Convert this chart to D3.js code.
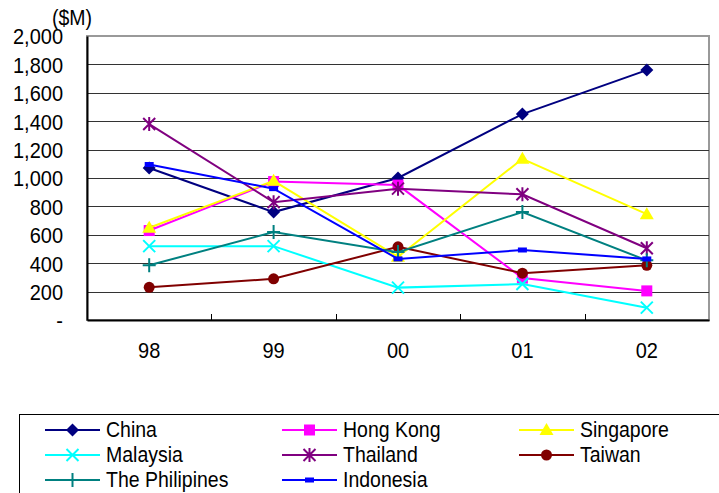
<!DOCTYPE html>
<html>
<head>
<meta charset="utf-8">
<script src="https://cdn.jsdelivr.net/npm/d3@7"></script>
<style>
  html, body { margin: 0; padding: 0; background: #fff; }
  svg { display: block; font-family: "Liberation Sans", Arial, sans-serif; }
</style>
</head>
<body>
<svg id="chart" width="719" height="493"></svg>
<script>
// Years on the category axis
const years = ["98", "99", "00", "01", "02"];

// Values in $M per economy
const china       = [1070, 760, 1000, 1450, 1760];
const hongKong    = [630, 975, 950, 295, 205];
const singapore   = [650, 980, 445, 1135, 745];
const malaysia    = [520, 520, 228, 253, 87];
const thailand    = [1380, 830, 925, 885, 505];
const taiwan      = [230, 290, 515, 330, 385];
const philippines = [385, 620, 478, 760, 420];
const indonesia   = [1095, 925, 430, 493, 430];

// Value-axis ticks
const yTicks = [0, 200, 400, 600, 800, 1000, 1200, 1400, 1600, 1800, 2000];

const series = [
  { name: "China",          values: china,       color: "#000080", marker: "diamond" },
  { name: "Hong Kong",      values: hongKong,    color: "#FF00FF", marker: "square" },
  { name: "Singapore",      values: singapore,   color: "#FFFF00", marker: "triangle" },
  { name: "Malaysia",       values: malaysia,    color: "#00FFFF", marker: "cross" },
  { name: "Thailand",       values: thailand,    color: "#800080", marker: "star" },
  { name: "Taiwan",         values: taiwan,      color: "#800000", marker: "circle" },
  { name: "The Philipines", values: philippines, color: "#008080", marker: "plus" },
  { name: "Indonesia",      values: indonesia,   color: "#0000FF", marker: "dash" }
];

const svg = d3.select("#chart");
const plot = { left: 87, right: 709, top: 36, bottom: 320 };
const stretch = "scale(1,1.1)"; // slightly tall glyphs

const x = d3.scaleBand().domain(years).range([plot.left, plot.right]).padding(0);
const y = d3.scaleLinear().domain([0, 2000]).range([plot.bottom, plot.top]);

// Plot frame (grey) and horizontal gridlines
svg.append("rect")
  .attr("x", plot.left).attr("y", plot.top)
  .attr("width", plot.right - plot.left).attr("height", plot.bottom - plot.top)
  .attr("fill", "#fff").attr("stroke", "#999").attr("stroke-width", 2);

svg.append("g")
  .selectAll("line")
  .data(yTicks.filter(t => t > 0 && t < 2000))
  .join("line")
  .attr("x1", plot.left).attr("x2", plot.right)
  .attr("y1", d => Math.round(y(d)) + 0.5).attr("y2", d => Math.round(y(d)) + 0.5)
  .attr("stroke", "#333").attr("stroke-width", 1);

// Value axis
const yAxis = svg.append("g")
  .attr("transform", `translate(${plot.left},0)`)
  .call(d3.axisLeft(y)
    .tickValues(yTicks)
    .tickSize(0)
    .tickPadding(24)
    .tickFormat(d => d === 0 ? "-" : d3.format(",")(d)));
yAxis.select(".domain").attr("stroke", "#000").attr("stroke-width", 2);
yAxis.selectAll("text")
  .attr("font-size", 20).attr("fill", "#000")
  .attr("font-family", "Liberation Sans, Arial, sans-serif")
  .attr("dy", "0.36em")
  .attr("transform", stretch);

// Category axis
const xAxis = svg.append("g")
  .attr("transform", `translate(0,${plot.bottom})`)
  .call(d3.axisBottom(x).tickSize(0).tickPadding(20.3));
xAxis.select(".domain").attr("stroke", "#000").attr("stroke-width", 2);
xAxis.selectAll("text")
  .attr("font-size", 20).attr("fill", "#000")
  .attr("font-family", "Liberation Sans, Arial, sans-serif")
  .attr("transform", stretch);

// Tick marks between categories, pointing into the plot
svg.append("g")
  .selectAll("line")
  .data(years.slice(1))
  .join("line")
  .attr("x1", d => Math.round(x(d)) + 0.5).attr("x2", d => Math.round(x(d)) + 0.5)
  .attr("y1", plot.bottom).attr("y2", plot.bottom - 6)
  .attr("stroke", "#000").attr("stroke-width", 1);

// Unit label
svg.append("text")
  .attr("transform", `translate(52,25) ${stretch}`)
  .attr("font-size", 19.5)
  .text("($M)");

// Marker drawing
function drawMarker(g, type, color) {
  switch (type) {
    case "diamond":
      g.append("path").attr("d", "M0,-6.5L6.5,0L0,6.5L-6.5,0Z").attr("fill", color);
      break;
    case "square":
      g.append("rect").attr("x", -5.5).attr("y", -5.5).attr("width", 11).attr("height", 11).attr("fill", color);
      break;
    case "triangle":
      g.append("path").attr("d", "M0,-7L7,5L-7,5Z").attr("fill", color);
      break;
    case "circle":
      g.append("circle").attr("r", 5.5).attr("fill", color);
      break;
    case "dash":
      g.append("rect").attr("x", -4.5).attr("y", -2.5).attr("width", 9).attr("height", 5).attr("fill", color);
      break;
    case "cross":
      g.append("path").attr("d", "M-6,-6L6,6M-6,6L6,-6").attr("stroke", color).attr("stroke-width", 2).attr("fill", "none");
      break;
    case "star":
      g.append("path").attr("d", "M-6,-6L6,6M-6,6L6,-6M0,-7L0,7").attr("stroke", color).attr("stroke-width", 2).attr("fill", "none");
      break;
    case "plus":
      g.append("path").attr("d", "M-6.5,0L6.5,0M0,-7L0,7").attr("stroke", color).attr("stroke-width", 2).attr("fill", "none");
      break;
  }
}

const line = d3.line()
  .x((d, i) => x(years[i]) + x.bandwidth() / 2)
  .y(d => y(d));

// Series lines with markers
series.forEach(s => {
  const g = svg.append("g");
  g.append("path")
    .attr("d", line(s.values))
    .attr("fill", "none")
    .attr("stroke", s.color)
    .attr("stroke-width", 2);
  s.values.forEach((v, i) => {
    const m = g.append("g")
      .attr("transform", `translate(${x(years[i]) + x.bandwidth() / 2},${y(v)})`);
    drawMarker(m, s.marker, s.color);
  });
});

// Legend
const legend = svg.append("g");
legend.append("rect")
  .attr("x", 19.5).attr("y", 414.5)
  .attr("width", 720).attr("height", 100)
  .attr("fill", "#fff").attr("stroke", "#000").attr("stroke-width", 1);

const colX = [45, 282, 519];
const rowY = [430, 455, 480];
series.forEach((s, i) => {
  const cx = colX[i % 3], cy = rowY[Math.floor(i / 3)];
  const g = legend.append("g").attr("transform", `translate(${cx},${cy})`);
  g.append("line").attr("x1", 0).attr("x2", 55).attr("y1", 0).attr("y2", 0)
    .attr("stroke", s.color).attr("stroke-width", 2);
  const m = g.append("g").attr("transform", "translate(27.5,0)");
  drawMarker(m, s.marker, s.color);
  g.append("text")
    .attr("transform", `translate(61,7) ${stretch}`)
    .attr("font-size", 19.5)
    .text(s.name);
});
</script>
</body>
</html>
